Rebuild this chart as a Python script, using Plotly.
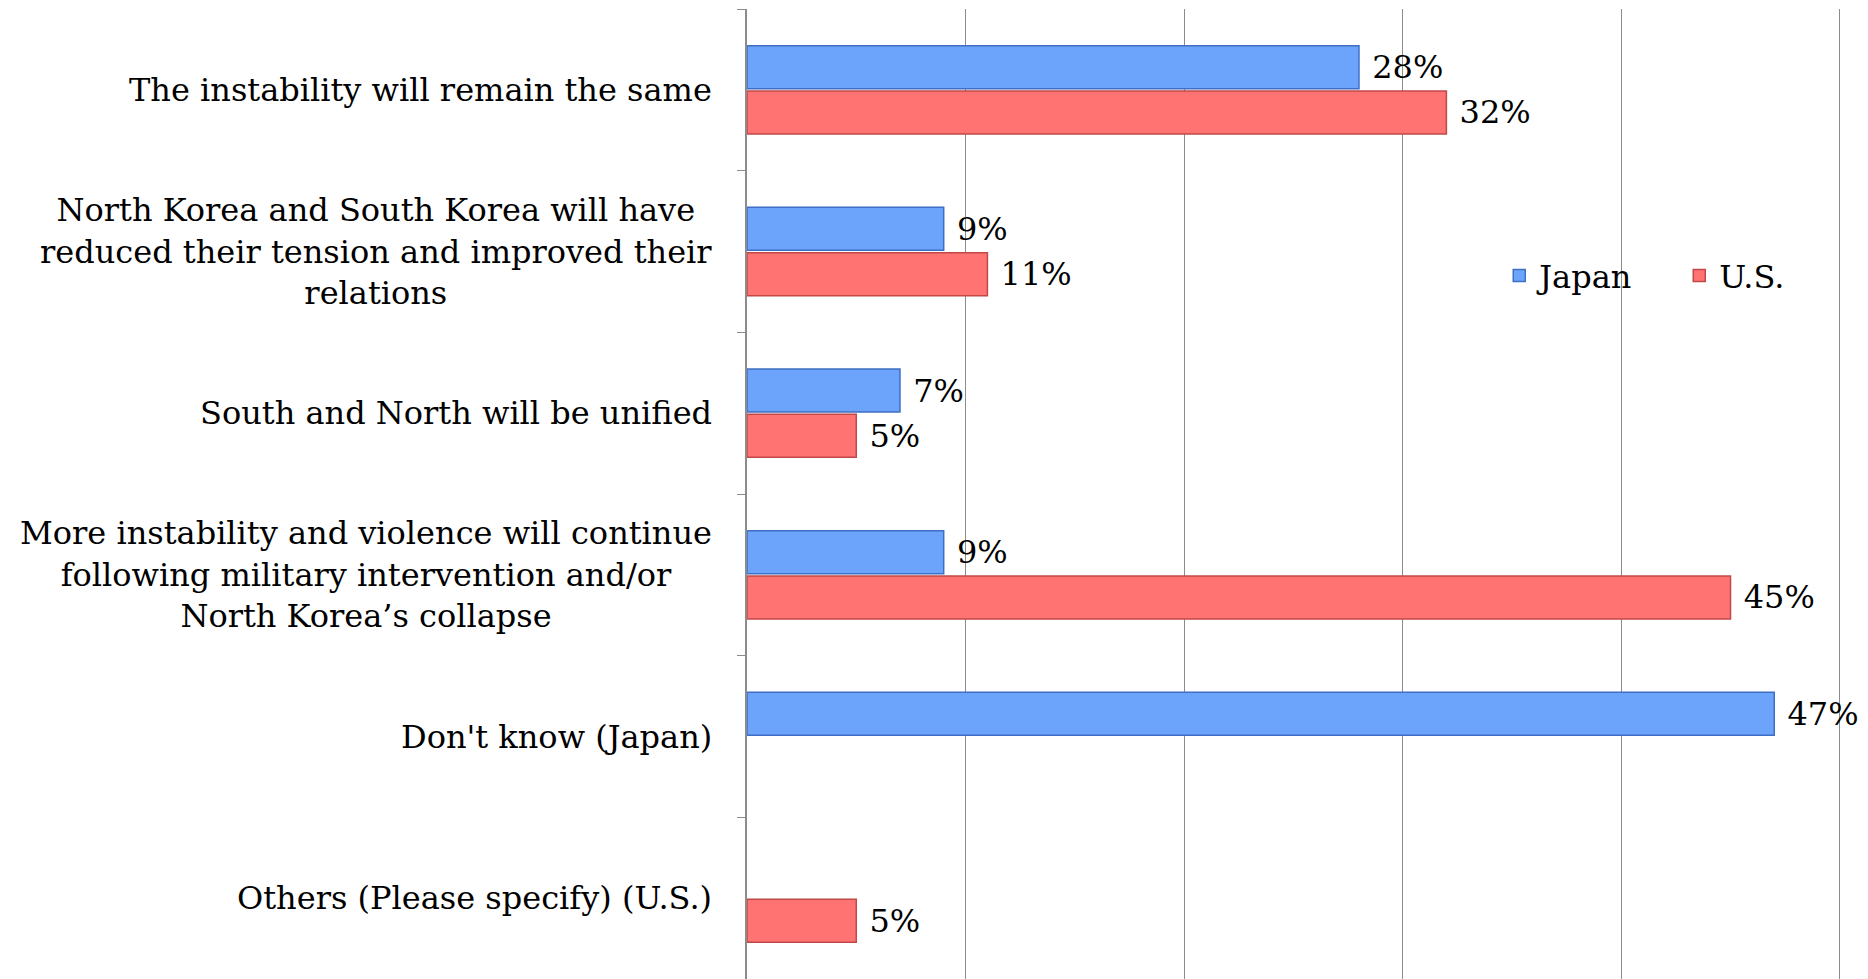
import plotly.graph_objects as go

categories = [
    "The instability will remain the same",
    "North Korea and South Korea will have<br>reduced their tension and improved their<br>relations",
    "South and North will be unified",
    "More instability and violence will continue<br>following military intervention and/or<br>North Korea’s collapse",
    "Don't know (Japan)",
    "Others (Please specify) (U.S.)",
]
japan = [0.28, 0.09, 0.07, 0.09, 0.47, None]
us = [0.32, 0.11, 0.05, 0.45, None, 0.05]
series_names = ["Japan", "U.S."]

FONT = "DejaVu Serif"
FS = 32
fig = go.Figure()
fig.add_trace(go.Bar(
    y=categories, x=japan, name=series_names[0], orientation="h",
    marker=dict(color="#6ca3fb", line=dict(color="#3f6fc4", width=1.5)),
    texttemplate="\u00a0%{x:.0%}", textposition="outside", cliponaxis=False,
    textfont=dict(family=FONT, size=FS, color="#000000"),
))
fig.add_trace(go.Bar(
    y=categories, x=us, name=series_names[1], orientation="h",
    marker=dict(color="#ff7373", line=dict(color="#c24848", width=1.5)),
    texttemplate="\u00a0%{x:.0%}", textposition="outside", cliponaxis=False,
    textfont=dict(family=FONT, size=FS, color="#000000"),
))

for c in categories:
    fig.add_annotation(
        x=0, xref="paper", y=c, yref="y", text=c, showarrow=False,
        xanchor="right", xshift=-33, align="center",
        font=dict(family=FONT, size=FS, color="#000000"),
    )

fig.update_layout(
    width=1868, height=979,
    margin=dict(l=747, r=26, t=9, b=0),
    paper_bgcolor="white", plot_bgcolor="white",
    barmode="group", bargap=0.44, bargroupgap=0.05,
    font=dict(family=FONT, size=FS, color="#000000"),
    showlegend=True,
    legend=dict(
        orientation="h", x=0.687, y=0.725, xanchor="left", yanchor="middle",
        font=dict(family=FONT, size=FS, color="#000000"),
        entrywidth=135, bgcolor="rgba(0,0,0,0)",
    ),
    uniformtext=dict(mode=False),
)
fig.update_xaxes(
    range=[0, 0.501], tick0=0, dtick=0.1, showticklabels=False, showgrid=True,
    gridcolor="#8c8c8c", gridwidth=1, zeroline=False, showline=False,
    automargin=False,
)
fig.update_yaxes(
    categoryorder="array", categoryarray=categories, autorange="reversed",
    showticklabels=False, showline=True, linecolor="#8c8c8c", linewidth=1.5,
    ticks="outside", tickson="boundaries", ticklen=8, tickcolor="#8c8c8c",
    showgrid=False, automargin=False,
)

fig.write_html(
    "out.html",
    config={"displayModeBar": False},
    post_script="document.body.style.margin='0';document.body.style.overflow='hidden';",
)
